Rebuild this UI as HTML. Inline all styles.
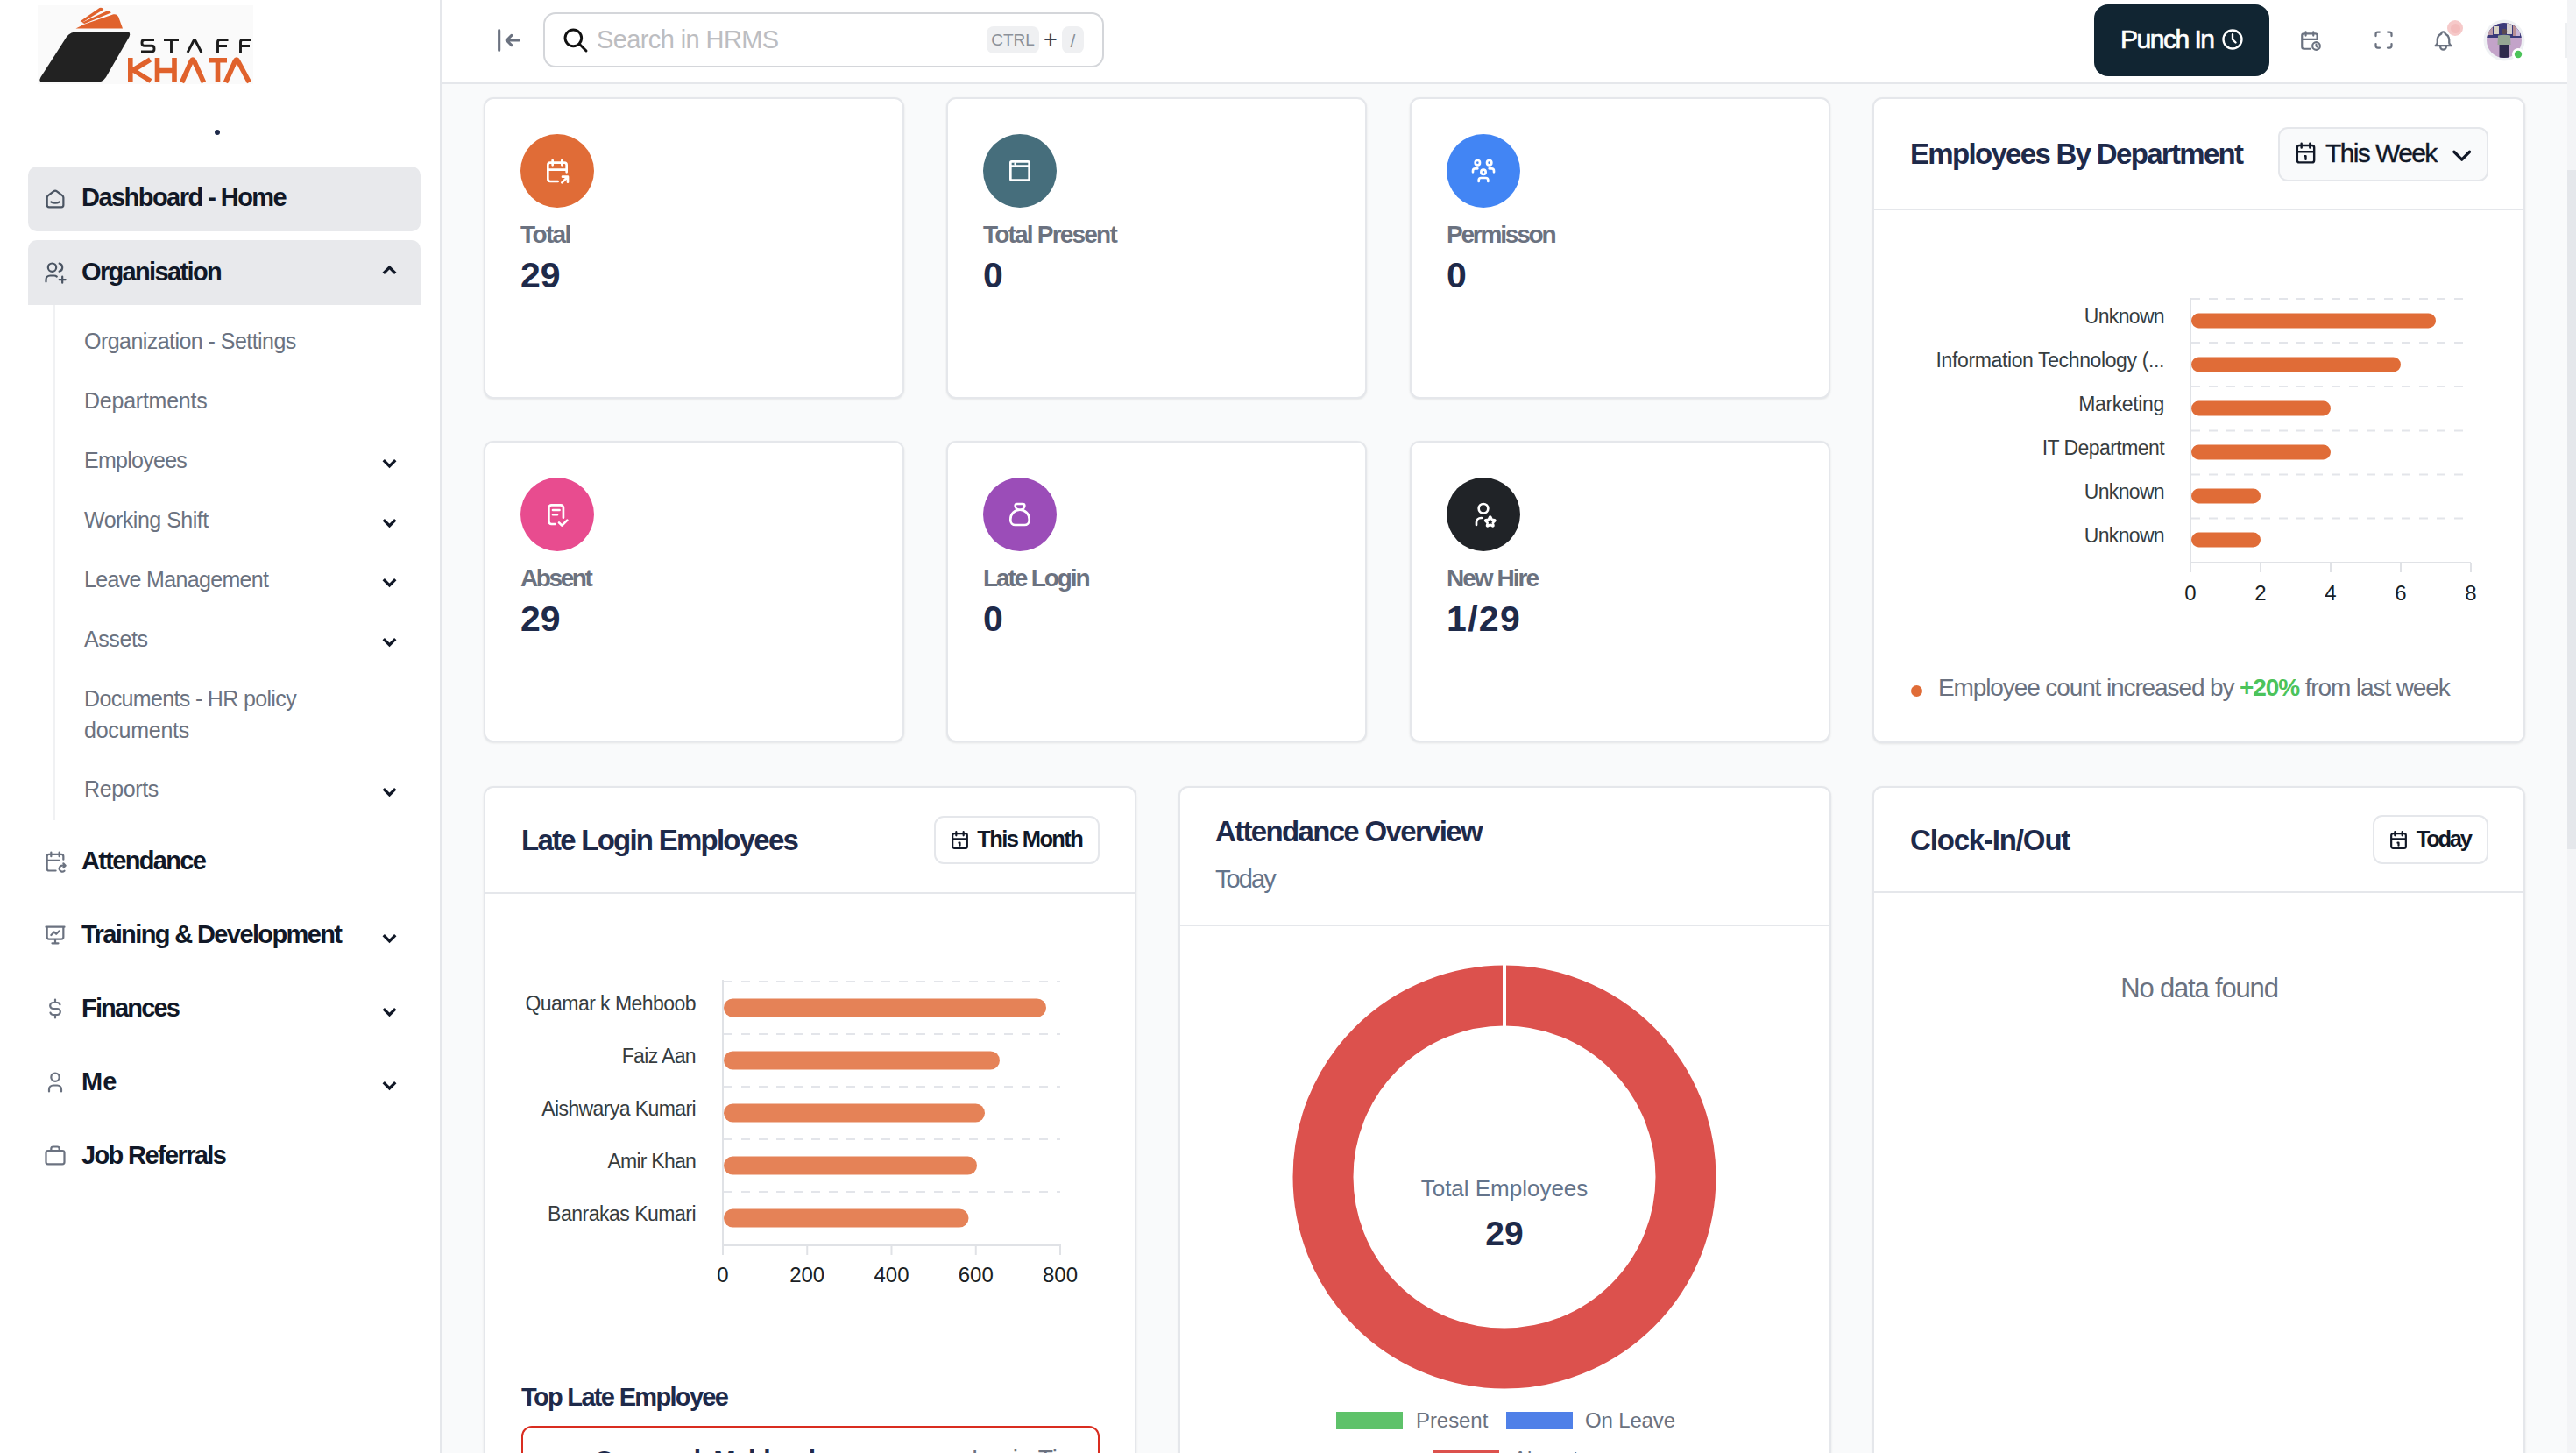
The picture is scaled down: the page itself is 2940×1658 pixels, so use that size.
<!DOCTYPE html><html><head><meta charset="utf-8"><style>*{box-sizing:border-box;margin:0;padding:0}
html,body{width:2940px;height:1658px;overflow:hidden;background:#f9fafb;font-family:"Liberation Sans",sans-serif}
.a{position:absolute}
.t{position:absolute;line-height:1;white-space:nowrap}
svg.i{position:absolute;fill:none;stroke-linecap:round;stroke-linejoin:round}
#side{left:0;top:0;width:504px;height:1658px;background:#fff;border-right:2px solid #e5e7eb}
#hdr{left:504px;top:0;width:2426px;height:96px;background:#fff;border-bottom:2px solid #e5e7eb}
#sb{left:2930px;top:0;width:10px;height:1658px;background:#f3f4f6}
#thumb{left:2930px;top:194px;width:10px;height:775px;background:#e5e7eb}
.card{position:absolute;background:#fff;border:2px solid #e5e7eb;border-radius:11px;box-shadow:0 1px 3px rgba(0,0,0,0.06),0 1px 2px rgba(0,0,0,0.03)}
.nav{color:#111827;font-weight:bold}
.sub{color:#6b7280}
.lbl{color:#6b7280;font-weight:bold}
.val{color:#1e2a4a;font-weight:bold}
.ttl{color:#1e2a4a;font-weight:bold}
.ic{position:absolute;width:84px;height:84px;border-radius:50%}
.ax{color:#373d3f}
.btn{position:absolute;border:2px solid #e5e7eb;border-radius:11px;background:#fff}
</style></head><body>
<div id="side" class="a"></div><div id="hdr" class="a"></div><div id="sb" class="a"></div><div id="thumb" class="a"></div>
<svg class="a" style="left:0;top:0" width="300" height="110" viewBox="0 0 300 110">
<rect x="43" y="6" width="246" height="90" fill="#fafafa"/>
<path d="M90 36 H144 Q150 36 147.5 42 L121 88 Q117 94 110 94 H50 Q43 94 46.5 88 L76 42 Q80 36 90 36 Z" fill="#222"/>
<path d="M86.5 32.5 H140 L135.3 19.5 Q133.5 15.5 129.5 16.3 L96 27.8 Z" fill="#e0622c"/>
<path d="M93.5 25.8 L122 12.6 Q125.3 11.6 126.8 14.6 L96.5 27 Z" fill="#e0622c"/>
<path d="M91.5 24.2 L113.5 9 Q116.8 8 118.3 10.8 L94.5 25.3 Z" fill="#e0622c"/>
<g stroke="#1c1c1c" stroke-width="2.9" fill="none" stroke-linecap="butt" stroke-linejoin="round">
<path d="M176 45.5 H165 Q162 45.5 162 48.5 V49.3 Q162 52.3 165 52.3 H173 Q176 52.3 176 55.3 V56 Q176 59 173 59 H161"/>
<path d="M187 45.5 H204 M195.5 45.5 V60"/>
<path d="M214 60 L221 46.5 Q222 44.5 223 46.5 L230 60"/>
<path d="M260.5 45.5 H251 Q248.5 45.5 248.5 48 V60 M248.5 52.5 H259"/>
<path d="M287 45.5 H277 Q274.5 45.5 274.5 48 V60 M274.5 52.5 H285"/>
</g>
<g stroke="#e0622c" stroke-width="5.6" fill="none" stroke-linecap="butt" stroke-linejoin="round">
<path d="M148.8 66 V94 M171.5 68 L152 80 L172 92.5"/>
<path d="M179.5 66 V94 M199 66 V94 M179.5 80.5 H199"/>
<path d="M207.5 94 L218.5 69.5 Q220 66.5 221.5 69.5 L232.5 94"/>
<path d="M238 68.8 H259 M248.5 68.8 V94"/>
<path d="M257.5 94 L268.5 69.5 Q270 66.5 271.5 69.5 L284.5 94"/>
</g>
</svg>
<div class="a" style="left:245px;top:148px;width:6px;height:6px;border-radius:50%;background:#1e2a4a"></div>
<div class="a" style="left:32px;top:190px;width:448px;height:74px;border-radius:10px;background:#e8e9ec"></div>
<div class="a" style="left:32px;top:274px;width:448px;height:74px;border-radius:10px 10px 0 0;background:#e8e9ec"></div>
<div class="a" style="left:60px;top:348px;width:3px;height:588px;background:#f0f1f3"></div>
<svg class="i" style="left:49px;top:213px" width="28" height="28" viewBox="0 0 24 24" stroke="#4b5563" stroke-width="1.9"><path d="M19 8.71l-5.333 -4.148a2.666 2.666 0 0 0 -3.274 0l-5.334 4.148a2.665 2.665 0 0 0 -1.029 2.105v7.2a2 2 0 0 0 2 2h12a2 2 0 0 0 2 -2v-7.2c0 -.823 -.38 -1.6 -1.03 -2.105 M16 15c-2.21 1.333 -5.792 1.333 -8 0"/></svg>
<div id="x1" class="t nav" style="left:93.0px;top:211.2px;font-size:29px;letter-spacing:-1.540px;">Dashboard - Home</div>
<svg class="i" style="left:49px;top:297.3px" width="28" height="28" viewBox="0 0 24 24" stroke="#4b5563" stroke-width="1.9"><path d="M5 7a4 4 0 1 0 8 0a4 4 0 0 0 -8 0 M3 21v-2a4 4 0 0 1 4 -4h4c.96 0 1.84 .338 2.53 .901 M16 3.13a4 4 0 0 1 0 7.75 M16 19h6 M19 16v6"/></svg>
<div id="x2" class="t nav" style="left:93.0px;top:295.5px;font-size:29px;letter-spacing:-1.655px;">Organisation</div>
<svg class="i" style="left:430.5px;top:295px" width="27" height="27" viewBox="0 0 24 24" stroke="#111827" stroke-width="3"><path d="M6 15l6 -6l6 6" stroke-linecap="butt" stroke-linejoin="miter"/></svg>
<div id="x3" class="t sub" style="left:96.0px;top:376.8px;font-size:25px;letter-spacing:-0.545px;">Organization - Settings</div>
<div id="x4" class="t sub" style="left:96.0px;top:444.8px;font-size:25px;letter-spacing:-0.240px;">Departments</div>
<div id="x5" class="t sub" style="left:96.0px;top:512.8px;font-size:25px;letter-spacing:-0.725px;">Employees</div>
<svg class="i" style="left:430.5px;top:515px" width="27" height="27" viewBox="0 0 24 24" stroke="#111827" stroke-width="3"><path d="M6 9l6 6l6 -6" stroke-linecap="butt" stroke-linejoin="miter"/></svg>
<div id="x6" class="t sub" style="left:96.0px;top:580.8px;font-size:25px;letter-spacing:-0.500px;">Working Shift</div>
<svg class="i" style="left:430.5px;top:583px" width="27" height="27" viewBox="0 0 24 24" stroke="#111827" stroke-width="3"><path d="M6 9l6 6l6 -6" stroke-linecap="butt" stroke-linejoin="miter"/></svg>
<div id="x7" class="t sub" style="left:96.0px;top:648.8px;font-size:25px;letter-spacing:-0.667px;">Leave Management</div>
<svg class="i" style="left:430.5px;top:651px" width="27" height="27" viewBox="0 0 24 24" stroke="#111827" stroke-width="3"><path d="M6 9l6 6l6 -6" stroke-linecap="butt" stroke-linejoin="miter"/></svg>
<div id="x8" class="t sub" style="left:96.0px;top:716.8px;font-size:25px;letter-spacing:-0.400px;">Assets</div>
<svg class="i" style="left:430.5px;top:719px" width="27" height="27" viewBox="0 0 24 24" stroke="#111827" stroke-width="3"><path d="M6 9l6 6l6 -6" stroke-linecap="butt" stroke-linejoin="miter"/></svg>
<div id="x9" class="t sub" style="left:96.0px;top:784.8px;font-size:25px;letter-spacing:-0.650px;">Documents - HR policy</div>
<div id="x10" class="t sub" style="left:96.0px;top:820.8px;font-size:25px;letter-spacing:-0.250px;">documents</div>
<div id="x11" class="t sub" style="left:96.0px;top:887.8px;font-size:25px;letter-spacing:-0.367px;">Reports</div>
<svg class="i" style="left:430.5px;top:890px" width="27" height="27" viewBox="0 0 24 24" stroke="#111827" stroke-width="3"><path d="M6 9l6 6l6 -6" stroke-linecap="butt" stroke-linejoin="miter"/></svg>
<svg class="i" style="left:49px;top:969.3px" width="28" height="28" viewBox="0 0 24 24" stroke="#6b7280" stroke-width="1.9"><path d="M12.5 21h-6.5a2 2 0 0 1 -2 -2v-12a2 2 0 0 1 2 -2h12a2 2 0 0 1 2 2v3 M16 3v4 M8 3v4 M4 11h12 M20 14l2 2h-3 M20 18l2 -2 M19 16a3 3 0 1 0 2 5.236"/></svg>
<div id="x12" class="t nav" style="left:93.0px;top:967.5px;font-size:29px;letter-spacing:-1.667px;">Attendance</div>
<svg class="i" style="left:49px;top:1053.3px" width="28" height="28" viewBox="0 0 24 24" stroke="#6b7280" stroke-width="1.9"><path d="M3 4l18 0 M4 4v10a2 2 0 0 0 2 2h12a2 2 0 0 0 2 -2v-10 M12 16l0 4 M9 20l6 0 M8 12l3 -3l2 2l3 -3"/></svg>
<div id="x13" class="t nav" style="left:93.0px;top:1051.5px;font-size:29px;letter-spacing:-1.619px;">Training &amp; Development</div>
<svg class="i" style="left:430.5px;top:1057px" width="27" height="27" viewBox="0 0 24 24" stroke="#111827" stroke-width="3"><path d="M6 9l6 6l6 -6" stroke-linecap="butt" stroke-linejoin="miter"/></svg>
<svg class="i" style="left:49px;top:1137.3px" width="28" height="28" viewBox="0 0 24 24" stroke="#6b7280" stroke-width="1.9"><path d="M16.7 8a3 3 0 0 0 -2.7 -2h-4a3 3 0 0 0 0 6h4a3 3 0 0 1 0 6h-4a3 3 0 0 1 -2.7 -2 M12 3v3m0 12v3"/></svg>
<div id="x14" class="t nav" style="left:93.0px;top:1135.5px;font-size:29px;letter-spacing:-1.829px;">Finances</div>
<svg class="i" style="left:430.5px;top:1141px" width="27" height="27" viewBox="0 0 24 24" stroke="#111827" stroke-width="3"><path d="M6 9l6 6l6 -6" stroke-linecap="butt" stroke-linejoin="miter"/></svg>
<svg class="i" style="left:49px;top:1221.3px" width="28" height="28" viewBox="0 0 24 24" stroke="#6b7280" stroke-width="1.9"><path d="M8 7a4 4 0 1 0 8 0a4 4 0 0 0 -8 0 M6 21v-2a4 4 0 0 1 4 -4h4a4 4 0 0 1 4 4v2"/></svg>
<div id="x15" class="t nav" style="left:93.0px;top:1219.5px;font-size:29px;letter-spacing:0.200px;">Me</div>
<svg class="i" style="left:430.5px;top:1225px" width="27" height="27" viewBox="0 0 24 24" stroke="#111827" stroke-width="3"><path d="M6 9l6 6l6 -6" stroke-linecap="butt" stroke-linejoin="miter"/></svg>
<svg class="i" style="left:49px;top:1305.3px" width="28" height="28" viewBox="0 0 24 24" stroke="#6b7280" stroke-width="1.9"><path d="M3 9a2 2 0 0 1 2 -2h14a2 2 0 0 1 2 2v9a2 2 0 0 1 -2 2h-14a2 2 0 0 1 -2 -2v-9z M8 7v-2a2 2 0 0 1 2 -2h4a2 2 0 0 1 2 2v2"/></svg>
<div id="x16" class="t nav" style="left:93.0px;top:1303.5px;font-size:29px;letter-spacing:-1.625px;">Job Referrals</div>
<svg class="i" style="left:564px;top:29px" width="34" height="34" viewBox="0 0 24 24" stroke="#6b7280" stroke-width="2.2"><path d="M10 12l10 0 M10 12l4 4 M10 12l4 -4 M4 4l0 16"/></svg>
<div class="a" style="left:620px;top:14px;width:640px;height:63px;border:2px solid #d4d6da;border-radius:14px;background:#fff"></div>
<svg class="i" style="left:641px;top:30px" width="32" height="32" viewBox="0 0 24 24" stroke="#111" stroke-width="2.2"><path d="M10 10m-7 0a7 7 0 1 0 14 0a7 7 0 1 0 -14 0 M21 21l-6 -6"/></svg>
<div id="x17" class="t " style="left:681.0px;top:31.4px;font-size:29px;letter-spacing:-0.600px;color:#bcbdc1">Search in HRMS</div>
<div class="a" style="left:1126px;top:30px;width:60px;height:31px;border-radius:8px;background:#eff0f2"></div>
<div id="x18" class="t " style="left:1156.0px;transform:translateX(-50%);top:36.4px;font-size:19px;color:#8b9099">CTRL</div>
<div id="x19" class="t " style="left:1199.0px;transform:translateX(-50%);top:31.6px;font-size:27px;color:#374151">+</div>
<div class="a" style="left:1212px;top:30px;width:25px;height:31px;border-radius:8px;background:#eff0f2"></div>
<div id="x20" class="t " style="left:1224.5px;transform:translateX(-50%);top:35.6px;font-size:21px;color:#8b9099">/</div>
<div class="a" style="left:2390px;top:5px;width:200px;height:82px;border-radius:16px;background:#112532"></div>
<div id="x21" class="t " style="left:2420.0px;top:29.8px;font-size:30px;letter-spacing:-1.486px;color:#fff;-webkit-text-stroke:0.7px #fff">Punch In</div>
<svg class="i" style="left:2534px;top:31px" width="28" height="28" viewBox="0 0 24 24" stroke="#fff" stroke-width="2"><path d="M3 12a9 9 0 1 0 18 0a9 9 0 0 0 -18 0 M12 7v5l3 3"/></svg>
<svg class="i" style="left:2624px;top:33px" width="26" height="26" viewBox="0 0 24 24" stroke="#6b7280" stroke-width="2"><path d="M11.795 21h-6.795a2 2 0 0 1 -2 -2v-12a2 2 0 0 1 2 -2h12a2 2 0 0 1 2 2v4 M18 18m-4 0a4 4 0 1 0 8 0a4 4 0 1 0 -8 0 M15 3v4 M7 3v4 M3 11h16 M18 16.496v1.504l1 1"/></svg>
<svg class="i" style="left:2706.5px;top:32px" width="27" height="27" viewBox="0 0 24 24" stroke="#6b7280" stroke-width="2"><path d="M4 8v-2a2 2 0 0 1 2 -2h2 M4 16v2a2 2 0 0 0 2 2h2 M16 4h2a2 2 0 0 1 2 2v2 M16 20h2a2 2 0 0 0 2 -2v-2"/></svg>
<svg class="i" style="left:2774.5px;top:32.5px" width="27" height="27" viewBox="0 0 24 24" stroke="#6b7280" stroke-width="2"><path d="M10 5a2 2 0 1 1 4 0a7 7 0 0 1 4 6v3a4 4 0 0 0 2 3h-16a4 4 0 0 0 2 -3v-3a7 7 0 0 1 4 -6 M9 17v1a3 3 0 0 0 6 0v-1"/></svg>
<div class="a" style="left:2793px;top:23px;width:18px;height:18px;border-radius:50%;background:#f6c9c9"></div>
<div class="a" style="left:2797px;top:27px;width:11px;height:11px;border-radius:50%;background:#f3bcbc"></div>
<svg class="a" style="left:2832px;top:21px" width="52" height="52" viewBox="0 0 52 52">
<circle cx="26" cy="25" r="23.5" fill="#eff1f4"/>
<defs><clipPath id="av"><circle cx="26" cy="25" r="20"/></clipPath></defs>
<g clip-path="url(#av)">
<rect x="0" y="0" width="52" height="52" fill="#c3a3c9"/>
<rect x="0" y="0" width="52" height="22" fill="#3b3a7a"/>
<rect x="8" y="4" width="5" height="15" fill="#b99aa8"/><rect x="14" y="9" width="6" height="9" fill="#d9d3c4"/>
<rect x="29" y="5" width="6" height="13" fill="#d6cfd0"/><rect x="36" y="3" width="3" height="17" fill="#b98f95"/><rect x="39" y="6" width="5" height="14" fill="#c9b5d8"/>
<rect x="4" y="44" width="44" height="8" fill="#a77ee8"/>
<circle cx="26" cy="15" r="3.2" fill="#5b4a52"/>
<path d="M19 19.5 Q26 18 33 19.5 L33.5 30 L18.5 30 Z" fill="#95a593"/>
<rect x="20.5" y="30" width="11" height="17" fill="#2e2a4c"/>
</g>
<circle cx="42" cy="41" r="7" fill="#fff"/><circle cx="42" cy="41" r="4.2" fill="#4cc35a"/>
</svg>
<div class="a" style="left:2928px;top:26px;width:2px;height:40px;background:#eef0f2"></div>
<div class="card" style="left:552px;top:111px;width:480px;height:344px;"></div>
<div class="ic" style="left:594px;top:153px;background:#e06c37"></div>
<svg class="i" style="left:620px;top:179px" width="32" height="32" viewBox="0 0 24 24" stroke="#fff" stroke-width="2"><path d="M12.5 21h-6.5a2 2 0 0 1 -2 -2v-12a2 2 0 0 1 2 -2h12a2 2 0 0 1 2 2v6 M16 3v4 M8 3v4 M4 11h16 M16 22l5 -5 M21 21.5v-4.5h-4.5"/></svg>
<div id="x22" class="t lbl" style="left:594.0px;top:254.3px;font-size:28px;letter-spacing:-1.625px;">Total</div>
<div id="x23" class="t val" style="left:594.0px;top:294.3px;font-size:41px;letter-spacing:0.000px;">29</div>
<div class="card" style="left:1080px;top:111px;width:480px;height:344px;"></div>
<div class="ic" style="left:1122px;top:153px;background:#466e7c"></div>
<svg class="i" style="left:1148px;top:179px" width="32" height="32" viewBox="0 0 24 24" stroke="#fff" stroke-width="2"><path d="M4 4m0 1a1 1 0 0 1 1 -1h14a1 1 0 0 1 1 1v14a1 1 0 0 1 -1 1h-14a1 1 0 0 1 -1 -1z M4 8h16 M8 6h.01"/></svg>
<div id="x24" class="t lbl" style="left:1122.0px;top:254.3px;font-size:28px;letter-spacing:-1.800px;">Total Present</div>
<div id="x25" class="t val" style="left:1122.0px;top:294.3px;font-size:41px;">0</div>
<div class="card" style="left:1609px;top:111px;width:480px;height:344px;"></div>
<div class="ic" style="left:1651px;top:153px;background:#4285f4"></div>
<svg class="i" style="left:1677px;top:179px" width="32" height="32" viewBox="0 0 24 24" stroke="#fff" stroke-width="2"><path d="M10 13a2 2 0 1 0 4 0a2 2 0 0 0 -4 0 M8 21v-1a2 2 0 0 1 2 -2h4a2 2 0 0 1 2 2v1 M15 5a2 2 0 1 0 4 0a2 2 0 0 0 -4 0 M17 10h2a2 2 0 0 1 2 2v1 M5 5a2 2 0 1 0 4 0a2 2 0 0 0 -4 0 M3 13v-1a2 2 0 0 1 2 -2h2"/></svg>
<div id="x26" class="t lbl" style="left:1651.0px;top:254.3px;font-size:28px;letter-spacing:-2.200px;">Permisson</div>
<div id="x27" class="t val" style="left:1651.0px;top:294.3px;font-size:41px;">0</div>
<div class="card" style="left:552px;top:503px;width:480px;height:344px;"></div>
<div class="ic" style="left:594px;top:545px;background:#e84c8f"></div>
<svg class="i" style="left:620px;top:571px" width="32" height="32" viewBox="0 0 24 24" stroke="#fff" stroke-width="2"><path d="M10.2 20.25h-3.2a2.2 2.2 0 0 1 -2.2 -2.2v-11.85a2.2 2.2 0 0 1 2.2 -2.2h8a2.2 2.2 0 0 1 2.2 2.2v8.6 M8.25 8.25h5.65 M8.25 12.2h3.75 M13.5 19l2.5 2.5l4.5 -4.5"/></svg>
<div id="x28" class="t lbl" style="left:594.0px;top:646.3px;font-size:28px;letter-spacing:-2.400px;">Absent</div>
<div id="x29" class="t val" style="left:594.0px;top:686.3px;font-size:41px;letter-spacing:0.000px;">29</div>
<div class="card" style="left:1080px;top:503px;width:480px;height:344px;"></div>
<div class="ic" style="left:1122px;top:545px;background:#9b4db8"></div>
<svg class="i" style="left:1148px;top:571px" width="32" height="32" viewBox="0 0 24 24" stroke="#fff" stroke-width="2"><path d="M9.5 3h5a1.5 1.5 0 0 1 1.5 1.5a3.5 3.5 0 0 1 -3.5 3.5h-1a3.5 3.5 0 0 1 -3.5 -3.5a1.5 1.5 0 0 1 1.5 -1.5z M4 17v-1a8 8 0 1 1 16 0v1a4 4 0 0 1 -4 4h-8a4 4 0 0 1 -4 -4z"/></svg>
<div id="x30" class="t lbl" style="left:1122.0px;top:646.3px;font-size:28px;letter-spacing:-2.111px;">Late Login</div>
<div id="x31" class="t val" style="left:1122.0px;top:686.3px;font-size:41px;">0</div>
<div class="card" style="left:1609px;top:503px;width:480px;height:344px;"></div>
<div class="ic" style="left:1651px;top:545px;background:#202327"></div>
<svg class="i" style="left:1677px;top:571px" width="32" height="32" viewBox="0 0 24 24" stroke="#fff" stroke-width="2"><path d="M8 7a4 4 0 1 0 8 0a4 4 0 0 0 -8 0 M6 21v-2a4 4 0 0 1 4 -4h.5 M17.8 20.817l-2.172 1.138a.392 .392 0 0 1 -.568 -.41l.415 -2.411l-1.757 -1.707a.389 .389 0 0 1 .217 -.665l2.428 -.352l1.086 -2.193a.392 .392 0 0 1 .702 0l1.086 2.193l2.428 .352a.39 .39 0 0 1 .217 .665l-1.757 1.707l.414 2.41a.39 .39 0 0 1 -.567 .411z"/></svg>
<div id="x32" class="t lbl" style="left:1651.0px;top:646.3px;font-size:28px;letter-spacing:-1.971px;">New Hire</div>
<div id="x33" class="t val" style="left:1651.0px;top:686.3px;font-size:41px;letter-spacing:1.333px;">1/29</div>
<div class="card" style="left:2137px;top:111px;width:745px;height:737px;"></div>
<div class="a" style="left:2139px;top:238px;width:741px;height:2px;background:#e5e7eb"></div>
<div id="x34" class="t ttl" style="left:2180.0px;top:159.1px;font-size:33px;letter-spacing:-1.686px;">Employees By Department</div>
<div class="btn" style="left:2600px;top:145px;width:240px;height:62px;background:#f9fafb"></div>
<svg class="i" style="left:2617px;top:159.5px" width="29" height="29" viewBox="0 0 24 24" stroke="#111827" stroke-width="2"><path d="M4 7a2 2 0 0 1 2 -2h12a2 2 0 0 1 2 2v12a2 2 0 0 1 -2 2h-12a2 2 0 0 1 -2 -2v-12z M16 3v4 M8 3v4 M4 11h16 M11 15h1 M12 15v3"/></svg>
<div id="x35" class="t " style="left:2654.0px;top:159.9px;font-size:30px;letter-spacing:-1.600px;color:#111827;-webkit-text-stroke:0.4px #111827">This Week</div>
<svg class="i" style="left:2792.2px;top:159.6px" width="35.4" height="35.4" viewBox="0 0 24 24" stroke="#111827" stroke-width="2.25"><path d="M6 9l6 6l6 -6"/></svg>
<svg class="a" style="left:2490px;top:330px" width="350" height="340" viewBox="2490 330 350 340"><line x1="2501" y1="341" x2="2820" y2="341" stroke="#e3e5ea" stroke-width="2" stroke-dasharray="10 10"/><line x1="2501" y1="391" x2="2820" y2="391" stroke="#e3e5ea" stroke-width="2" stroke-dasharray="10 10"/><line x1="2501" y1="441" x2="2820" y2="441" stroke="#e3e5ea" stroke-width="2" stroke-dasharray="10 10"/><line x1="2501" y1="491.5" x2="2820" y2="491.5" stroke="#e3e5ea" stroke-width="2" stroke-dasharray="10 10"/><line x1="2501" y1="541.5" x2="2820" y2="541.5" stroke="#e3e5ea" stroke-width="2" stroke-dasharray="10 10"/><line x1="2501" y1="591.5" x2="2820" y2="591.5" stroke="#e3e5ea" stroke-width="2" stroke-dasharray="10 10"/><line x1="2500" y1="340" x2="2500" y2="653" stroke="#e0e2e6" stroke-width="2"/><line x1="2500" y1="642" x2="2820" y2="642" stroke="#e0e2e6" stroke-width="2"/><line x1="2500" y1="642" x2="2500" y2="653" stroke="#e0e2e6" stroke-width="2"/><line x1="2580" y1="642" x2="2580" y2="653" stroke="#e0e2e6" stroke-width="2"/><line x1="2660" y1="642" x2="2660" y2="653" stroke="#e0e2e6" stroke-width="2"/><line x1="2740" y1="642" x2="2740" y2="653" stroke="#e0e2e6" stroke-width="2"/><line x1="2820" y1="642" x2="2820" y2="653" stroke="#e0e2e6" stroke-width="2"/><rect x="2501" y="357.5" width="279" height="17" rx="8.5" fill="#e06c37"/><rect x="2501" y="407.5" width="239" height="17" rx="8.5" fill="#e06c37"/><rect x="2501" y="457.5" width="159" height="17" rx="8.5" fill="#e06c37"/><rect x="2501" y="507.5" width="159" height="17" rx="8.5" fill="#e06c37"/><rect x="2501" y="557.5" width="79" height="17" rx="8.5" fill="#e06c37"/><rect x="2501" y="607.5" width="79" height="17" rx="8.5" fill="#e06c37"/></svg>
<div id="x36" class="t ax" style="right:470.0px;top:349.5px;font-size:23px;letter-spacing:-0.667px;">Unknown</div>
<div id="x37" class="t ax" style="right:470.0px;top:399.5px;font-size:23px;letter-spacing:-0.377px;">Information Technology (...</div>
<div id="x38" class="t ax" style="right:470.0px;top:449.5px;font-size:23px;letter-spacing:-0.350px;">Marketing</div>
<div id="x39" class="t ax" style="right:470.0px;top:499.5px;font-size:23px;letter-spacing:-0.567px;">IT Department</div>
<div id="x40" class="t ax" style="right:470.0px;top:549.5px;font-size:23px;letter-spacing:-0.667px;">Unknown</div>
<div id="x41" class="t ax" style="right:470.0px;top:599.5px;font-size:23px;letter-spacing:-0.667px;">Unknown</div>
<div id="x42" class="t ax" style="left:2500.0px;transform:translateX(-50%);top:665.1px;font-size:24px;color:#1b1f24">0</div>
<div id="x43" class="t ax" style="left:2580.0px;transform:translateX(-50%);top:665.1px;font-size:24px;color:#1b1f24">2</div>
<div id="x44" class="t ax" style="left:2660.0px;transform:translateX(-50%);top:665.1px;font-size:24px;color:#1b1f24">4</div>
<div id="x45" class="t ax" style="left:2740.0px;transform:translateX(-50%);top:665.1px;font-size:24px;color:#1b1f24">6</div>
<div id="x46" class="t ax" style="left:2820.0px;transform:translateX(-50%);top:665.1px;font-size:24px;color:#1b1f24">8</div>
<div class="a" style="left:2181px;top:782px;width:13px;height:13px;border-radius:50%;background:#e06c37"></div>
<div id="x47" class="t " style="left:2212.0px;top:771.3px;font-size:28px;letter-spacing:-1.109px;color:#6b7280">Employee count increased by <b style="color:#4cc35a">+20%</b> from last week</div>
<div class="card" style="left:552px;top:897px;width:745px;height:800px;"></div>
<div class="a" style="left:554px;top:1018px;width:741px;height:2px;background:#e5e7eb"></div>
<div id="x48" class="t ttl" style="left:595.0px;top:941.7px;font-size:33px;letter-spacing:-1.758px;">Late Login Employees</div>
<div class="btn" style="left:1066px;top:931px;width:189px;height:55px"></div>
<svg class="i" style="left:1082.5px;top:946.2px" width="25" height="25" viewBox="0 0 24 24" stroke="#111827" stroke-width="2.1"><path d="M4 7a2 2 0 0 1 2 -2h12a2 2 0 0 1 2 2v12a2 2 0 0 1 -2 2h-12a2 2 0 0 1 -2 -2v-12z M16 3v4 M8 3v4 M4 11h16 M11 15h1 M12 15v3"/></svg>
<div id="x49" class="t " style="left:1115.3px;top:945.3px;font-size:25.5px;letter-spacing:-1.611px;color:#111827;font-weight:bold">This Month</div>
<svg class="a" style="left:800px;top:1100px" width="450" height="350" viewBox="800 1100 450 350"><line x1="826" y1="1120" x2="1210" y2="1120" stroke="#e3e5ea" stroke-width="2" stroke-dasharray="10 10"/><line x1="826" y1="1180" x2="1210" y2="1180" stroke="#e3e5ea" stroke-width="2" stroke-dasharray="10 10"/><line x1="826" y1="1240" x2="1210" y2="1240" stroke="#e3e5ea" stroke-width="2" stroke-dasharray="10 10"/><line x1="826" y1="1300" x2="1210" y2="1300" stroke="#e3e5ea" stroke-width="2" stroke-dasharray="10 10"/><line x1="826" y1="1360" x2="1210" y2="1360" stroke="#e3e5ea" stroke-width="2" stroke-dasharray="10 10"/><line x1="825" y1="1118" x2="825" y2="1432" stroke="#e0e2e6" stroke-width="2"/><line x1="825" y1="1421" x2="1211" y2="1421" stroke="#e0e2e6" stroke-width="2"/><line x1="825.0" y1="1421" x2="825.0" y2="1432" stroke="#e0e2e6" stroke-width="2"/><line x1="921.25" y1="1421" x2="921.25" y2="1432" stroke="#e0e2e6" stroke-width="2"/><line x1="1017.5" y1="1421" x2="1017.5" y2="1432" stroke="#e0e2e6" stroke-width="2"/><line x1="1113.75" y1="1421" x2="1113.75" y2="1432" stroke="#e0e2e6" stroke-width="2"/><line x1="1210.0" y1="1421" x2="1210.0" y2="1432" stroke="#e0e2e6" stroke-width="2"/><rect x="826" y="1139.5" width="368" height="21" rx="10.5" fill="#e58257"/><rect x="826" y="1199.5" width="315" height="21" rx="10.5" fill="#e58257"/><rect x="826" y="1259.5" width="298" height="21" rx="10.5" fill="#e58257"/><rect x="826" y="1319.5" width="289" height="21" rx="10.5" fill="#e58257"/><rect x="826" y="1379.5" width="279.5" height="21" rx="10.5" fill="#e58257"/></svg>
<div id="x50" class="t ax" style="right:2146.0px;top:1133.9px;font-size:23px;letter-spacing:-0.547px;">Quamar k Mehboob</div>
<div id="x51" class="t ax" style="right:2146.0px;top:1193.9px;font-size:23px;letter-spacing:-0.643px;">Faiz Aan</div>
<div id="x52" class="t ax" style="right:2146.0px;top:1253.9px;font-size:23px;letter-spacing:-0.600px;">Aishwarya Kumari</div>
<div id="x53" class="t ax" style="right:2146.0px;top:1313.9px;font-size:23px;letter-spacing:-0.750px;">Amir Khan</div>
<div id="x54" class="t ax" style="right:2146.0px;top:1373.9px;font-size:23px;letter-spacing:-0.500px;">Banrakas Kumari</div>
<div id="x55" class="t ax" style="left:825.0px;transform:translateX(-50%);top:1442.7px;font-size:24px;color:#1b1f24">0</div>
<div id="x56" class="t ax" style="left:921.2px;transform:translateX(-50%);top:1442.7px;font-size:24px;color:#1b1f24">200</div>
<div id="x57" class="t ax" style="left:1017.5px;transform:translateX(-50%);top:1442.7px;font-size:24px;color:#1b1f24">400</div>
<div id="x58" class="t ax" style="left:1113.8px;transform:translateX(-50%);top:1442.7px;font-size:24px;color:#1b1f24">600</div>
<div id="x59" class="t ax" style="left:1210.0px;transform:translateX(-50%);top:1442.7px;font-size:24px;color:#1b1f24">800</div>
<div id="x60" class="t ttl" style="left:595.0px;top:1579.5px;font-size:29px;letter-spacing:-1.675px;">Top Late Employee</div>
<div class="a" style="left:595px;top:1627px;width:660px;height:100px;border:2px solid #d92d20;border-radius:12px;background:#fff"></div>
<div id="x61" class="t " style="left:678.0px;top:1650.6px;font-size:30px;letter-spacing:-1.133px;color:#1e2a4a;font-weight:bold">Quamar k Mehboob</div>
<div id="x62" class="t " style="left:1109.0px;top:1651.3px;font-size:28px;color:#6b7280">Login Time</div>
<div class="card" style="left:1345px;top:897px;width:745px;height:800px;"></div>
<div class="a" style="left:1347px;top:1055px;width:741px;height:2px;background:#e5e7eb"></div>
<div id="x63" class="t ttl" style="left:1387.0px;top:932.1px;font-size:33px;letter-spacing:-1.667px;">Attendance Overview</div>
<div id="x64" class="t " style="left:1387.0px;top:988.5px;font-size:29px;letter-spacing:-1.900px;color:#64748b">Today</div>
<svg class="a" style="left:1460px;top:1090px" width="520" height="520" viewBox="1460 1090 520 520"><circle cx="1717" cy="1343" r="207" fill="none" stroke="#dc514d" stroke-width="69"/><rect x="1715" y="1098" width="4" height="75" fill="#fff"/></svg>
<div id="x65" class="t " style="left:1717.0px;transform:translateX(-50%);top:1343.0px;font-size:26px;letter-spacing:-0.014px;color:#64748b">Total Employees</div>
<div id="x66" class="t val" style="left:1717.0px;transform:translateX(-50%);top:1388.0px;font-size:39px;">29</div>
<div class="a" style="left:1525px;top:1611px;width:76px;height:20px;background:#5ec26a"></div>
<div id="x67" class="t " style="left:1616.0px;top:1608.7px;font-size:24px;letter-spacing:-0.067px;color:#6b7280">Present</div>
<div class="a" style="left:1719px;top:1611px;width:76px;height:20px;background:#4f80e8"></div>
<div id="x68" class="t " style="left:1809.0px;top:1608.7px;font-size:24px;letter-spacing:-0.157px;color:#6b7280">On Leave</div>
<div class="a" style="left:1635px;top:1655px;width:76px;height:20px;background:#dc514d"></div>
<div id="x69" class="t " style="left:1727.0px;top:1652.7px;font-size:24px;color:#6b7280">Absent</div>
<div class="card" style="left:2137px;top:897px;width:745px;height:800px;"></div>
<div class="a" style="left:2139px;top:1017px;width:741px;height:2px;background:#e5e7eb"></div>
<div id="x70" class="t ttl" style="left:2180.0px;top:942.1px;font-size:33px;letter-spacing:-1.164px;">Clock-In/Out</div>
<div class="btn" style="left:2708px;top:930px;width:132px;height:56px"></div>
<svg class="i" style="left:2724.8px;top:946px" width="25" height="25" viewBox="0 0 24 24" stroke="#111827" stroke-width="2.1"><path d="M4 7a2 2 0 0 1 2 -2h12a2 2 0 0 1 2 2v12a2 2 0 0 1 -2 2h-12a2 2 0 0 1 -2 -2v-12z M16 3v4 M8 3v4 M4 11h16 M11 15h1 M12 15v3"/></svg>
<div id="x71" class="t " style="left:2757.7px;top:945.0px;font-size:25.5px;letter-spacing:-2.225px;color:#111827;font-weight:bold">Today</div>
<div id="x72" class="t " style="left:2510.0px;transform:translateX(-50%);top:1112.3px;font-size:31px;letter-spacing:-1.183px;color:#6b7280">No data found</div>
</body></html>
